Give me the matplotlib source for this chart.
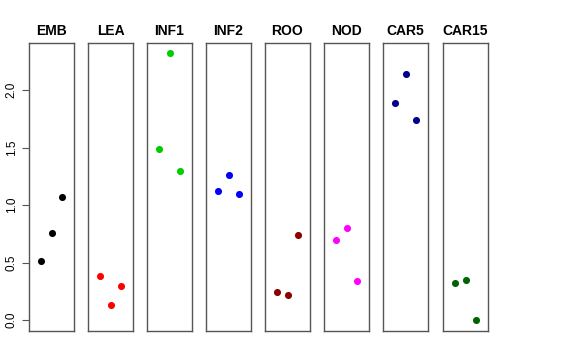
import matplotlib
matplotlib.use("Agg")
import matplotlib.pyplot as plt

plt.rcParams['font.family'] = ['Liberation Sans', 'DejaVu Sans']

# one panel per tissue, three replicates each (left, middle, right)
tissues = ['EMB', 'LEA', 'INF1', 'INF2', 'ROO', 'NOD', 'CAR5', 'CAR15']
colors = ['black', 'red', '#00CD00', 'blue', '#8B0000', 'magenta', '#00008B', '#006400']
values = {
    'EMB':   [0.51, 0.76, 1.07],
    'LEA':   [0.38, 0.13, 0.30],
    'INF1':  [1.49, 2.32, 1.30],
    'INF2':  [1.12, 1.26, 1.10],
    'ROO':   [0.24, 0.22, 0.74],
    'NOD':   [0.70, 0.80, 0.34],
    'CAR5':  [1.89, 2.14, 1.74],
    'CAR15': [0.32, 0.35, 0.00],
}
replicate_x = [1, 2, 3]
y_ticks = [0.0, 0.5, 1.0, 1.5, 2.0]

W, H = 576, 360
fig = plt.figure(figsize=(W / 100, H / 100), dpi=100)

panel_left = [29, 88, 147, 206, 265, 324, 383, 443]
panel_w = 45
top_px, bottom_px = 43, 331

for i, (name, col) in enumerate(zip(tissues, colors)):
    ax = fig.add_axes([panel_left[i] / W, (H - bottom_px) / H,
                       panel_w / W, (bottom_px - top_px) / H])
    ax.scatter(replicate_x, values[name], s=26, color=col, linewidths=0, zorder=3)
    ax.set_xlim(-0.14, 4.14)
    ax.set_ylim(-0.095, 2.41)
    ax.set_xticks([])
    for sp in ax.spines.values():
        sp.set_color('#555555')
        sp.set_linewidth(1.0)
    ax.set_title(name, fontsize=10, fontweight='bold', pad=6)
    if i == 0:
        ax.set_yticks(y_ticks)
        ax.set_yticklabels([f'{t:.1f}' for t in y_ticks], rotation=90,
                           va='center', fontsize=8.5)
        ax.tick_params(axis='y', length=5, width=0.8, color='#555555', pad=3)
    else:
        ax.set_yticks([])

fig.savefig('out.png', dpi=100)
